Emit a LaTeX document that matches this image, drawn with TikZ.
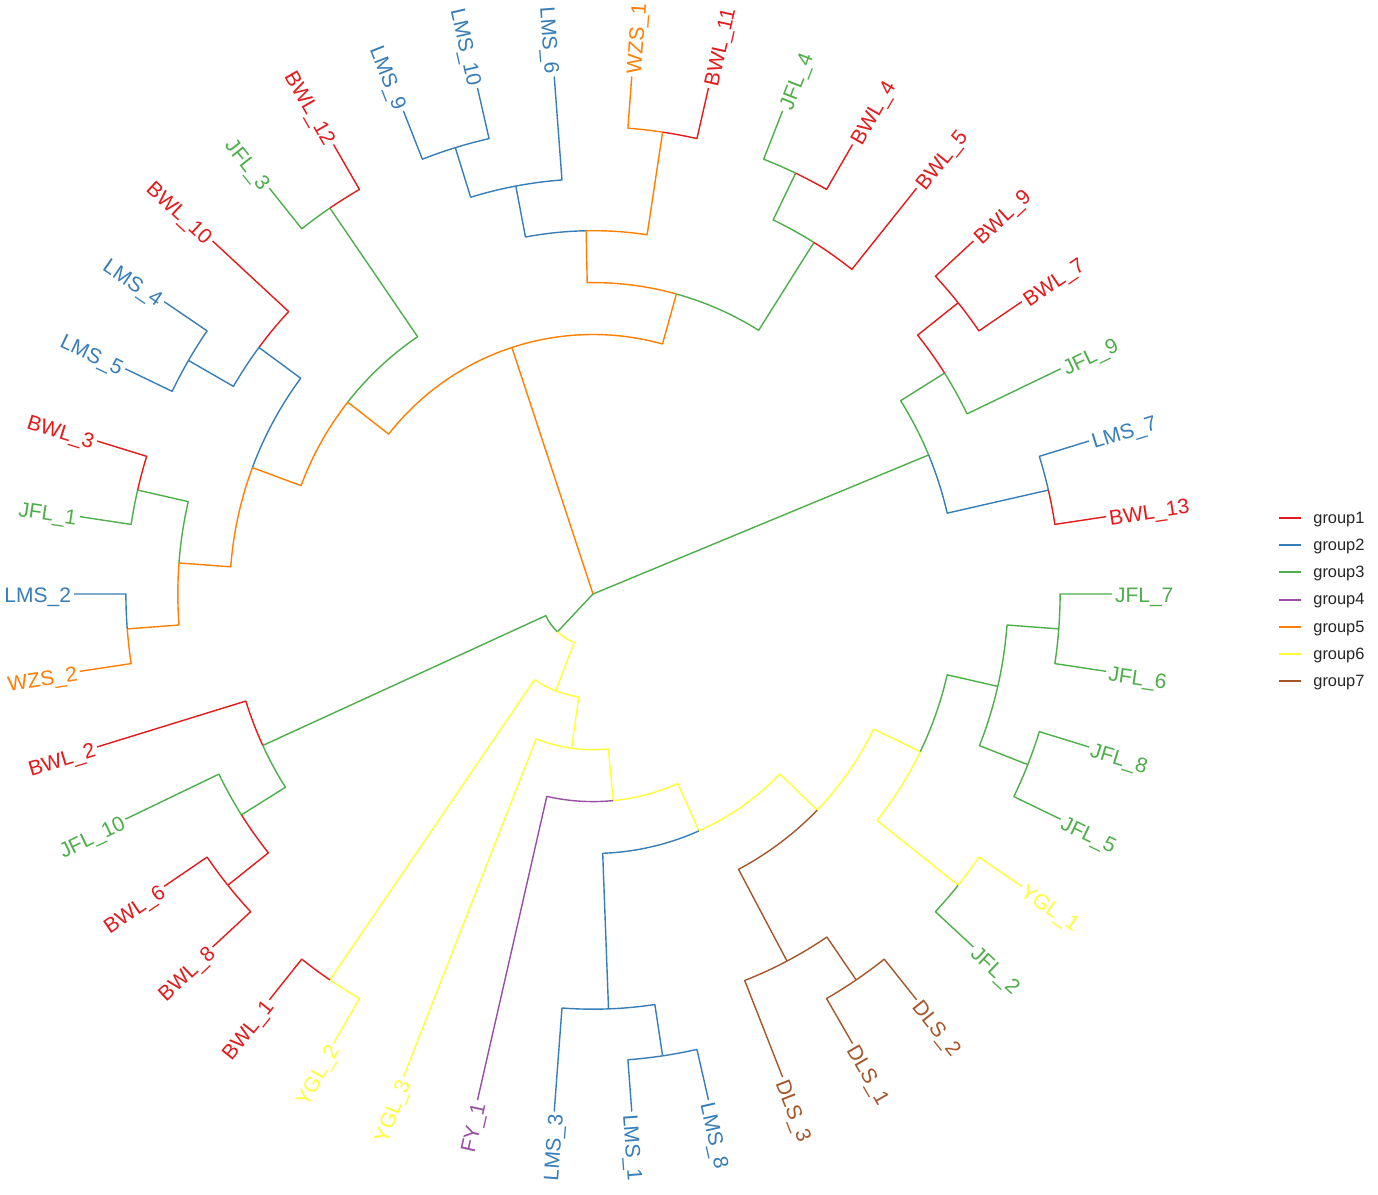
\documentclass[tikz,border=0pt]{standalone}
\usepackage{fontspec}
\setmainfont{Liberation Sans}
\definecolor{gA}{HTML}{E41A1C}
\definecolor{gB}{HTML}{377EB8}
\definecolor{gC}{HTML}{4DAF4A}
\definecolor{gD}{HTML}{984EA3}
\definecolor{gE}{HTML}{FF7F00}
\definecolor{gF}{HTML}{FFFF33}
\definecolor{gG}{HTML}{A65628}
\newcommand\labfont{\fontsize{10.5}{12}\selectfont}
\newcommand\legfont{\fontsize{8.2}{10}\selectfont}
\tikzset{
  br/.style={line width=0.7pt, line join=round},
  eA/.style={br, draw=gA}, eB/.style={br, draw=gB}, eC/.style={br, draw=gC},
  eD/.style={br, draw=gD}, eE/.style={br, draw=gE}, eF/.style={br, draw=gF},
  eG/.style={br, draw=gG},
  lab/.style={inner sep=0pt, text height=9pt, text depth=0pt, font=\labfont},
  legline/.style={line width=1pt},
  legtext/.style={inner sep=0pt, anchor=mid west, font=\legfont, text=black!85},
}
\newcommand{\defnode}[3]{\expandafter\def\csname nA#1\endcsname{#2}\expandafter\def\csname nR#1\endcsname{#3}\coordinate (#1) at (#2:#3pt);}
\newcommand{\tedge}[3]{\draw[#1] (#2) arc[start angle=\csname nA#2\endcsname, end angle=\csname nA#3\endcsname, radius=\csname nR#2\endcsname pt] -- (#3);}
\newcommand{\tipR}[4]{\defnode{#1}{#2}{259.5}\node[lab, text=#3, anchor=west, rotate=#2] (#1l) at (#2:260.8pt) {#4};}
\newcommand{\tipL}[4]{\defnode{#1}{#2}{259.5}\node[lab, text=#3, anchor=east, rotate=#2+180] (#1l) at (#2:260.8pt) {#4};}
\begin{document}
\begin{tikzpicture}
\fill[white] (0,0) rectangle (689pt,597.5pt);
\useasboundingbox (0,0) rectangle (689pt,597.5pt);
\begin{scope}[shift={(296.5pt,300.5pt)}]
% tips
\tipR{bwl13}{8.5714}{gA}{BWL\_13}
\tipR{lms7}{17.1429}{gB}{LMS\_7}
\tipR{jfl9}{25.7143}{gC}{JFL\_9}
\tipR{bwl7}{34.2857}{gA}{BWL\_7}
\tipR{bwl9}{42.8571}{gA}{BWL\_9}
\tipR{bwl5}{51.4286}{gA}{BWL\_5}
\tipR{bwl4}{60}{gA}{BWL\_4}
\tipR{jfl4}{68.5714}{gC}{JFL\_4}
\tipR{bwl11}{77.1429}{gA}{BWL\_11}
\tipR{wzs1}{85.7143}{gE}{WZS\_1}
\tipL{lms6}{94.2857}{gB}{LMS\_6}
\tipL{lms10}{102.8571}{gB}{LMS\_10}
\tipL{lms9}{111.4286}{gB}{LMS\_9}
\tipL{bwl12}{120}{gA}{BWL\_12}
\tipL{jfl3}{128.5714}{gC}{JFL\_3}
\tipL{bwl10}{137.1429}{gA}{BWL\_10}
\tipL{lms4}{145.7143}{gB}{LMS\_4}
\tipL{lms5}{154.2857}{gB}{LMS\_5}
\tipL{bwl3}{162.8571}{gA}{BWL\_3}
\tipL{jfl1}{171.4286}{gC}{JFL\_1}
\tipL{lms2}{180}{gB}{LMS\_2}
\tipL{wzs2}{188.5714}{gE}{WZS\_2}
\tipL{bwl2}{197.1429}{gA}{BWL\_2}
\tipL{jfl10}{205.7143}{gC}{JFL\_10}
\tipL{bwl6}{214.2857}{gA}{BWL\_6}
\tipL{bwl8}{222.8571}{gA}{BWL\_8}
\tipL{bwl1}{231.4286}{gA}{BWL\_1}
\tipL{ygl2}{240}{gF}{YGL\_2}
\tipL{ygl3}{248.5714}{gF}{YGL\_3}
\tipL{fy1}{257.1429}{gD}{FY\_1}
\tipL{lms3}{265.7143}{gB}{LMS\_3}
\tipR{lms1}{274.2857}{gB}{LMS\_1}
\tipR{lms8}{282.8571}{gB}{LMS\_8}
\tipR{dls3}{291.4286}{gG}{DLS\_3}
\tipR{dls1}{300}{gG}{DLS\_1}
\tipR{dls2}{308.5714}{gG}{DLS\_2}
\tipR{jfl2}{317.1429}{gC}{JFL\_2}
\tipR{ygl1}{325.7143}{gF}{YGL\_1}
\tipR{jfl5}{334.2857}{gC}{JFL\_5}
\tipR{jfl8}{342.8571}{gC}{JFL\_8}
\tipR{jfl6}{351.4286}{gC}{JFL\_6}
\tipR{jfl7}{360}{gC}{JFL\_7}
% internal nodes
\coordinate (R) at (0,0);
\defnode{A1}{108.214}{129.75}
\defnode{X1}{141.964}{155.7}
\defnode{P}{124.286}{233.55}
\defnode{X3}{159.643}{181.65}
\defnode{Q}{143.571}{207.6}
\defnode{Q1}{150}{233.55}
\defnode{X4}{175.714}{207.6}
\defnode{N1}{167.143}{233.55}
\defnode{N2}{184.286}{233.55}
\defnode{X2}{74.464}{155.7}
\defnode{Y1}{91.071}{181.65}
\defnode{Z1}{100.714}{207.6}
\defnode{Z3}{107.143}{233.55}
\defnode{Z2}{81.429}{233.55}
\defnode{Y2}{57.857}{207.6}
\defnode{Y2a}{64.286}{233.55}
\defnode{A2}{22.5}{181.65}
\defnode{B1}{32.143}{207.6}
\defnode{B1a}{38.571}{233.55}
\defnode{B2}{12.857}{233.55}
\defnode{A3}{226.775}{25.95}
\defnode{G1}{204.643}{181.65}
\defnode{G2}{212.143}{207.6}
\defnode{G3}{218.571}{233.55}
\defnode{YY}{248.906}{51.9}
\defnode{Yb}{235.714}{233.55}
\defnode{Yc}{262.098}{77.85}
\defnode{Y3}{275.625}{103.8}
\defnode{Y4}{294.107}{129.75}
\defnode{L1}{272.143}{207.6}
\defnode{L2}{278.571}{233.55}
\defnode{Y5}{316.071}{155.7}
\defnode{D1}{297.857}{207.6}
\defnode{D2}{304.286}{233.55}
\defnode{Y6}{334.286}{181.65}
\defnode{YJ}{321.429}{233.55}
\defnode{J1}{347.143}{207.6}
\defnode{J2}{338.571}{233.55}
\defnode{J3}{355.714}{233.55}
% root edges
\draw[eE] (R) -- (A1);
\draw[eC] (R) -- (A2);
\draw[eC] (R) -- (A3);
% clade A1
\tedge{eE}{A1}{X1}
\tedge{eE}{A1}{X2}
\tedge{eC}{X1}{P}
\tedge{eE}{X1}{X3}
\tedge{eA}{P}{bwl12}
\tedge{eC}{P}{jfl3}
\tedge{eB}{X3}{Q}
\tedge{eE}{X3}{X4}
\tedge{eA}{Q}{bwl10}
\tedge{eB}{Q}{Q1}
\tedge{eB}{Q1}{lms4}
\tedge{eB}{Q1}{lms5}
\tedge{eC}{X4}{N1}
\tedge{eE}{X4}{N2}
\tedge{eA}{N1}{bwl3}
\tedge{eC}{N1}{jfl1}
\tedge{eB}{N2}{lms2}
\tedge{eE}{N2}{wzs2}
\tedge{eE}{X2}{Y1}
\tedge{eC}{X2}{Y2}
\tedge{eB}{Y1}{Z1}
\tedge{eE}{Y1}{Z2}
\tedge{eB}{Z1}{lms6}
\tedge{eB}{Z1}{Z3}
\tedge{eB}{Z3}{lms10}
\tedge{eB}{Z3}{lms9}
\tedge{eA}{Z2}{bwl11}
\tedge{eE}{Z2}{wzs1}
\tedge{eA}{Y2}{bwl5}
\tedge{eC}{Y2}{Y2a}
\tedge{eA}{Y2a}{bwl4}
\tedge{eC}{Y2a}{jfl4}
% clade A2
\tedge{eC}{A2}{B1}
\tedge{eB}{A2}{B2}
\tedge{eC}{B1}{jfl9}
\tedge{eA}{B1}{B1a}
\tedge{eA}{B1a}{bwl7}
\tedge{eA}{B1a}{bwl9}
\tedge{eA}{B2}{bwl13}
\tedge{eB}{B2}{lms7}
% clade A3
\tedge{eC}{A3}{G1}
\tedge{eF}{A3}{YY}
\tedge{eA}{G1}{bwl2}
\tedge{eC}{G1}{G2}
\tedge{eC}{G2}{jfl10}
\tedge{eA}{G2}{G3}
\tedge{eA}{G3}{bwl6}
\tedge{eA}{G3}{bwl8}
\tedge{eF}{YY}{Yb}
\tedge{eF}{YY}{Yc}
\tedge{eA}{Yb}{bwl1}
\tedge{eF}{Yb}{ygl2}
\tedge{eF}{Yc}{ygl3}
\tedge{eF}{Yc}{Y3}
\tedge{eD}{Y3}{fy1}
\tedge{eF}{Y3}{Y4}
\tedge{eB}{Y4}{L1}
\tedge{eF}{Y4}{Y5}
\tedge{eB}{L1}{lms3}
\tedge{eB}{L1}{L2}
\tedge{eB}{L2}{lms1}
\tedge{eB}{L2}{lms8}
\tedge{eG}{Y5}{D1}
\tedge{eF}{Y5}{Y6}
\tedge{eG}{D1}{dls3}
\tedge{eG}{D1}{D2}
\tedge{eG}{D2}{dls1}
\tedge{eG}{D2}{dls2}
\tedge{eF}{Y6}{YJ}
\tedge{eC}{Y6}{J1}
\tedge{eC}{YJ}{jfl2}
\tedge{eF}{YJ}{ygl1}
\tedge{eC}{J1}{J2}
\tedge{eC}{J1}{J3}
\tedge{eC}{J2}{jfl5}
\tedge{eC}{J2}{jfl8}
\tedge{eC}{J3}{jfl6}
\tedge{eC}{J3}{jfl7}
\end{scope}
% legend
\foreach \i/\c/\t in {0/gA/group1,1/gB/group2,2/gC/group3,3/gD/group4,4/gE/group5,5/gF/group6,6/gG/group7}{
  \coordinate (k\i a) at (639.5pt,{338.5pt-\i*13.6pt});
  \coordinate (k\i b) at (650.5pt,{338.5pt-\i*13.6pt});
  \draw[legline, draw=\c] (k\i a) -- (k\i b);
  \node[legtext] (k\i t) at (656.5pt,{338.5pt-\i*13.6pt}) {\t};
}
\end{tikzpicture}
\end{document}
